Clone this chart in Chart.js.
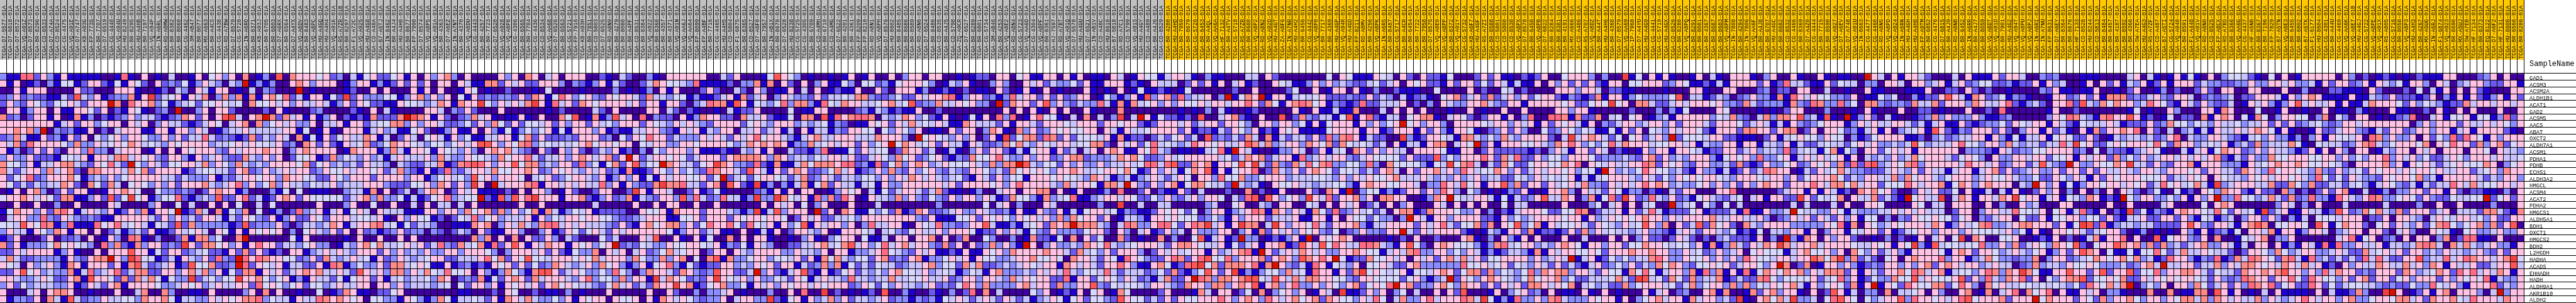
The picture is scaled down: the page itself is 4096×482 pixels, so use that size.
<!DOCTYPE html>
<html><head><meta charset="utf-8">
<style>html,body{margin:0;padding:0;background:#fff;overflow:hidden}canvas{display:block}#w{position:absolute;left:0;top:0;color:#0f0;background:#000;font:14px monospace}</style>
<script src="https://cdn.jsdelivr.net/npm/chart.js@4"></script>
</head><body><canvas id="c" width="4096" height="482"></canvas><div id="w"></div>
<script>
const genes=["GAD1","ACSM3","ACSM2A","ALDH1B1","ACAT1","GAD2","ACSM5","AACS","ABAT","OXCT2","ALDH7A1","ACSM1","PDHA1","PDHB","ECHS1","ALDH3A2","HMGCL","ACSM4","ACAT2","PDHA2","HMGCS1","ALDH5A1","BDH1","OXCT1","HMGCS2","BDH2","L2HGDH","HADHA","ACADS","EHHADH","HADH","ALDH9A1","AKR1B10","ALDH2"];
const graySamples="D7-5577 D7-6818 D7-8572 VQ-A91Z D7-8573 BR-8296 CD-8533 D7-A74A CD-8524 CG-4475 VQ-A91E D7-A747 KB-A93G FP-7735 BR-7707 D7-6519 CG-4440 VQ-A94U HU-8249 BR-8295 HU-A4HB BR-7197 VQ-A94P IN-A6RL RD-A8MW BR-8382 BR-8060 CG-4462 3M-AB47 BR-8077 MX-A663 BR-A4CS CG-4438 RD-A7BW D7-8570 CG-5720 IN-A6RO BR-8371 KB-A93J BR-6705 BR-6803 D7-A6RX BR-6564 D7-A4YX VQ-A8DV BR-8483 VQ-A8PC HU-A4GQ HU-A4H4 VQ-A91K R5-A7ZR-01B BR-8297 F1-A72C VQ-A925 HU-A4G8 CD-A48A B7-A5TJ IN-8462 BR-A4J4 HU-A4H0 BR-8677 FP-7998 D7-8574 VQ-A8P5 VQ-A91A BR-4363 D7-A6EZ IN-A7NT BR-4370 VQ-A8DU CG-4443 BR-4257 BR-7723 D7-6520 VQ-A928 VQ-A8P8 CG-4306 BR-6565 BR-7704 CG-4436 CD-8534 VQ-AA68 D7-6526 BR-6563 CG-5721 FP-7916 KB-A93H BR-7851 CD-5803 D7-6525 RD-A8N9 BR-4279 BR-8080 BR-A4PF CD-8531 BR-8384 VQ-A922 BR-8368 BR-4357 BR-4371 VQ-A91N VQ-AA6J VQ-AA64 FP-8099 FP-A4BF BR-7716 CG-4465 HU-A4H5 CD-5804 F1-6875 BR-8365 CD-8527 D7-A6F0 BR-7957 IN-AB1X BR-8678 D7-6528 HU-8238 CG-5725 CG-4305 BR-6709 CD-A4MH BR-6710 CD-A4MG D7-6522 BR-4201 BR-4361 FP-8209 FP-8210 RD-A8N1 VQ-A8PH D7-8576 HU-8602 BR-8485 BR-8686 BR-8589 RD-A8N6 D7-6524 BR-8486 CD-8535 BR-A4J5 CD-5798 ZQ-A9CR D7-6527 BR-8289 BR-6801 CG-5734 3M-AB46 BR-4253 VQ-A8E2 RD-A8N4 CG-5723 VQ-AA6D CG-4304 VQ-A8PF BR-8361 HJ-7597 RD-A7BT VQ-A91Q D7-5578 HU-A4GU D7-6521 IN-AB1V CD-A48C HU-8610 B7-5818 RD-A7C1 CD-5799 VQ-A91S HU-A4GY CD-A489 BR-A4J6 CD-8529".split(" ");
const yellowSamples="BR-4280 HU-A4HD BR-7959 BR-8679 CG-5726 BR-6453 BR-A4QL VQ-AA6A HF-7132 BR-A4TV CG-5718 R5-A7ZR BR-8680 VQ-A8P2 RD-A8N2 VQ-A92D HU-A4GT ZA-A8F6 IN-A7NR HU-A4H2 BR-6456 CG-4442 VQ-A8P0 BR-7717 BR-4369 HU-A4GP VQ-A94R HU-A4GD FP-8211 RD-A8MV BR-4256 VQ-A8PK IN-A6RS BR-8487 CG-5717 BR-A4CR BR-6454 BR-7722 BR-7958 D7-8575 VQ-A8E0 VQ-A8PP BR-8372 VQ-A91Y CG-5732 KB-A6F7 HU-A4GF R5-A7ZI BR-8588 CD-5801 CD-5800 CD-8530 VQ-A8PX D7-8578 BR-6458 VQ-A8PB D7-6822 BR-8284 BR-8381 BR-4191 MX-A666 CD-A486 R5-A707 VQ-A8DZ BR-A44T HU-A4H6 BR-4368 D7-8579 VQ-AA69 IP-7968 D7-A4YU HU-A4G9 CG-4441 CG-5719 HU-A4GX CD-8526 BR-8280 VQ-A8PQ BR-8291 BR-8081 BR-4367 BR-8687 BR-8683 VQ-A8PM IN-7808 BR-4294 IN-7806 VQ-AA6F BR-A4J8 BR-6707 HU-A4GC BR-8682 CD-8532 CG-4466 BR-8369 D7-A4Z0 CG-4444 BR-7715 BR-8590 VQ-A927 D7-A6EV D7-A748 VQ-A91U IN-8663 CG-4477 CG-4460 RD-A8N5 VQ-A8PD VQ-A924 IN-A6RN HU-A4GH HU-A4H8 FP-A9TM BR-6852 CG-4476 D7-6815 BR-A4J9 RD-A8NB BR-6452 IN-A6RR BR-A4J7 BR-8059 VQ-A8DT VQ-A91D BR-7901 HU-A4G2 VQ-A94T VQ-A8PU VQ-A8PJ IN-A6RI IN-A7NU FP-8631 D7-A6EY BR-8364 BR-8676 HF-7133 CD-8528 HU-8244 CD-5813 BR-8484 BR-6457 BR-4187 BR-8592 BR-4366 SW-A7EA HU-A4G3 R5-A7ZF CD-A487 B7-A5TI CG-5724 VQ-A940 BR-8591 F1-A448 VQ-A91V RD-A8N0 CD-8525 FP-A8CX RD-A7BS BR-8366 VQ-AA6G CG-4437 HF-A5NB BR-8367 BR-7196 FP-7829 B7-A5TN VQ-A8E3 BR-6455 BR-6802 B7-A5TK F1-6177 HU-8604 CG-4301 BR-A44U CG-4469 VQ-AA6K VQ-A8E7-01B HU-A4GJ CG-5722 VQ-A8PE VQ-A91X R5-A805 CG-5716 BR-8058 VQ-A8P3 HU-A4H3 BR-4267 MX-A5UG IN-A6RJ F1-6874 VQ-A923 BR-8690 MX-A5UJ SW-A7EB HF-7134 BR-8373 EQ-8122 D7-A6F2 HF-7131 HU-8608 BR-6566 BR-8286".split(" ");
const levelColors=["#4000A0","#2000D0","#6A58F0","#8A8CFF","#C8C2FF","#D8D8FF","#FFC2E4","#FF8A8A","#FF6A84","#FF5555","#F04040","#D81000"];
const panelA=[
"311882 631611 111001 810601 040016 056360 701309 076665 623041",
"616012 031551 266215 165206 232513 643043 b13130 067636 660136",
"006166 600006 220006 661001 204306 416601 040320 00b010 000120",
"236232 211429 436123 3716a2 456164 703737 171675 824166 152a26",
"263265 325564 2666b7 086673 513452 556545 075564 636446 413626",
"066136 606116 652602 165102 30b003 606620 000206 100023 000021",
"723026 616017 130212 363442 123762 6069a4 067b72 746161 360212",
"666666 661462 663566 064603 644212 465046 707356 463360 446166",
"667673 b03231 160204 666116 616636 401344 644444 661501 610666",
"237411 623162 605356 366533 636244 842321 272436 407151 625644",
"647286 666537 336456 576454 365666 634456 465546 230762 621645",
"613026 262066 383304 666016 060656 663264 666766 036766 660176",
"363362 221554 616647 746563 266316 346322 743636 025561 273543",
"755361 446774 326584 2b5364 255664 736537 434366 665725 634342",
"742466 374672 077666 475726 666124 554426 723634 646623 655646",
"625682 366675 134363 566666 442433 361324 665663 766542 265366",
"652424 344762 075274 056536 362666 743468 363573 644354 463444",
"016067 302626 610166 765005 332320 267661 300031 505011 100344",
"566764 652771 136292 5a5613 558213 439226 824126 762655 555246",
"006006 003006 000064 000036 005040 060605 004050 000006 000360",
"157663 627861 464361 263716 65b127 407153 705013 028346 146156",
"046633 832643 232116 666642 636342 664142 653261 362265 266645",
"554965 871381 118568 456415 429273 333312 923336 202443 476146",
"364416 537616 606024 134261 126456 406516 165656 030564 362606",
"126000 260223 060163 087103 002717 735007 b00000 051600 000106",
"726133 357565 430837 217366 232a62 775636 168662 443563 301436",
"226466 661361 006066 696615 266234 522162 726212 066134 646436",
"474223 333163 2677b6 3a8551 241643 62832b 868766 552362 743464",
"654063 463176 166626 179423 461295 57223b 826546 144226 187135",
"226956 343371 483468 247722 663674 736152 771646 246767 446429",
"664334 652267 196652 727475 1533a2 45355a 667535 613164 425156",
"362534 443361 264267 166665 334656 346446 628565 356255 346446",
"600046 067760 010006 004700 730011 060000 360706 001005 012761",
"613326 074194 233644 553766 751443 364656 778354 416448 767656"];
const panelB=[
"562256 160636 730600 006360 760460 666002 104200 310666 666004",
"613126 262606 606411 772646 226663 032136 142002 476554 381111",
"060600 061606 001650 100200 010500 001000 030101 306160 002620",
"333551 367363 605162 323326 276158 635632 656642 744355 131124",
"522116 554347 61766a 536464 7a6184 627656 666462 661662 034877",
"060410 000664 032620 006000 000102 000042 060000 660420 210010",
"172227 b97616 202374 610116 106007 590171 394608 032206 137662",
"245577 363664 223526 375262 554626 366264 536662 654364 643266",
"146341 156201 361160 631513 535615 166636 121144 663216 461436",
"761402 640564 163511 446615 726222 326662 305265 866243 336464",
"723576 654355 356469 963657 835545 456756 656605 466336 656666",
"661374 166516 543630 676743 206206 362024 361203 053666 361112",
"634146 444637 433655 437566 842446 367646 726b62 466565 246662",
"644304 322447 127898 636695 773436 628351 572693 55b764 4256a7",
"656247 321612 832466 475566 762365 643646 231711 265363 532876",
"626666 366135 645395 636665 045623 566436 136361 516466 55625b",
"666322 255637 6263a6 0b4666 781664 646448 361632 27a778 442670",
"170602 403676 026461 110206 066301 620026 6002a6 166400 261251",
"737335 141256 83455b 219396 8a6661 667213 623714 326639 384238",
"050060 040604 404060 000006 006000 000040 000060 060660 060060",
"406444 111663 663756 727363 571741 354612 222006 556176 662666",
"546106 365512 025483 563444 616354 665665 532234 666115 562666",
"678451 524430 011176 703647 437884 646444 326216 756773 625866",
"231236 233032 024306 211663 003612 652564 264666 666513 662461",
"006006 060000 000073 706070 622630 420005 240006 490061 061500",
"757445 646248 327457 182696 164766 165635 6b2325 433655 665461",
"662636 343633 663666 530366 646262 153370 646046 235745 660266",
"516236 434566 224446 857265 955466 656574 666375 337367 050791",
"336277 456511 612312 165626 252376 434637 563136 156831 521226",
"646377 364754 855606 313753 179962 465335 385303 766427 632396",
"626145 344537 602327 152676 274666 436835 537366 1a4765 2326a6",
"606636 344434 505266 361656 462675 654432 574624 2766a6 712567",
"102256 000000 001100 020650 020110 301000 600000 600620 030334",
"055331 653137 514454 261764 743353 616566 065560 617646 532336"];
const panelC=[
"260001 596530 100101 601600 603660 660010 122066 056116 606160",
"203371 706206 036115 305523 156665 301436 100363 006462 433526",
"042063 011604 060121 160062 066613 012102 011062 016106 010006",
"617246 036433 262445 477322 352264 667813 662313 846626 262366",
"196154 358377 318547 664456 745923 374465 6330b2 766269 363243",
"412260 000501 166000 023143 121160 020000 000006 060610 606006",
"207446 211507 709186 788704 347635 216101 516083 801685 510407",
"662564 366634 345132 011656 264745 464117 644426 166426 665466",
"604462 461406 144132 665505 365360 110626 603761 073623 656556",
"264685 664314 674466 644476 6630b5 654363 60261a 257728 726255",
"534767 676133 745646 626356 b57645 626441 642237 574365 466455",
"104361 600422 138011 526455 027662 401410 362662 141566 162404",
"677776 376344 354664 622465 375623 562132 755684 336366 236772",
"633282 171147 577768 823182 573676 346555 643737 7b9435 526363",
"642964 162676 223574 612363 732635 632432 665342 756565 366764",
"245256 654247 236424 435536 364764 643452 164263 551666 565543",
"9621a1 303147 157264 414516 336666 664626 666563 686666 437466",
"000023 161606 600136 560415 246642 472110 130046 606677 060160",
"4413a3 3a7546 183728 601644 373632 532636 636412 755317 345811",
"000006 064605 036000 600040 000000 030000 005046 030006 400000",
"4313a1 493666 0b2607 611535 271276 223463 364323 161163 261415",
"265665 665026 462244 536666 666632 611155 626565 365646 373756",
"852854 616359 164663 603844 661065 483323 669411 314562 767b77",
"106014 160266 436016 665404 532564 463666 512263 641532 633325",
"706066 100103 610356 605114 066066 706027 005300 301722 150706",
"325164 300224 467457 946358 467466 327260 623736 31b603 633437",
"064366 663364 436066 133468 543264 611216 116563 766667 664274",
"733566 355462 617574 355267 232671 335646 165533 466755 650766",
"634365 626614 237371 524254 423446 735527 472234 346546 617646",
"6224b3 621469 216125 624353 675546 345413 541673 334364 648435",
"546363 354265 146443 844344 744556 446236 636643 746566 228166",
"335164 636566 465666 236525 364434 623258 637333 367466 273366",
"601000 300608 00a020 101209 003100 210302 807040 000536 012160",
"046633 a21561 634736 244346 233132 315464 246426 424134 651562"];
const panelD=[
"110640 165514 664103 110004 406200 000005 065111 654062 062215",
"116661 210644 402626 160461 200654 113636 343224 524606 562216",
"101060 151121 015000 000200 600002 500601 660610 300211 100500",
"015313 619367 283446 03b157 6b1661 454562 223226 243041 231056",
"384171 745636 365564 664668 627516 787561 321282 244460 203064",
"100070 000000 010103 041001 200000 610611 411700 040606 060001",
"0403a0 4b6152 212090 046721 060090 273244 159168 214405 677104",
"626656 621266 646246 626653 066366 351615 666163 6356b5 636630",
"606416 445666 626122 142653 612165 611115 666616 612666 162631",
"546171 220242 562409 232427 407142 442628 378614 2200a3 126654",
"772064 625845 434866 564469 747346 637657 275454 240614 416770",
"606761 165843 011014 581b64 100133 640261 450762 636440 666651",
"333476 752236 456666 645247 672466 183464 663246 555526 222935",
"363446 458848 922767 166596 a42732 748578 335538 307555 53154a",
"456657 512636 415769 161566 802743 626765 255424 267406 266746",
"764134 134642 465066 385573 356663 444554 363646 556744 464343",
"51774b 632636 715775 442b43 410655 644344 553167 665566 403386",
"013080 026021 162040 002007 020160 006207 61b035 513126 626386",
"346646 522536 324636 650428 909635 63a648 266736 077660 01376b",
"0300a0 040044 000003 400560 043066 005406 064602 406036 000640",
"664513 211265 652503 661346 871763 641752 823645 240677 127666",
"626014 431665 655523 531636 662444 611661 606552 53303b 641663",
"743048 733688 52687a 4616a7 704a63 665842 666731 446666 264684",
"662063 046126 340633 366036 172646 365632 502363 3266b4 264666",
"250072 010070 300591 4612b3 301213 61b065 676000 001020 600200",
"658434 566642 677654 461524 616671 296495 864488 743169 520676",
"536266 630264 645661 634678 1b6246 476463 366765 514647 833663",
"426518 653226 872689 558366 672676 397686 b51227 556460 646267",
"426686 311675 1289a5 727776 817b63 241861 543605 564226 733333",
"548424 442352 721359 626a13 135537 451866 1627a5 654561 554676",
"256536 423147 226b87 377679 954964 747766 553266 555525 63134b",
"932545 543664 327663 773676 916736 833636 536725 658b67 233675",
"560175 000026 000174 066025 070356 360164 0a1126 360350 400606",
"553296 552426 265566 686367 638646 756727 655364 850473 368466"];
const panelE=[
"000262 611021 260056 663030 0a1506 161001 604106 661036 006100",
"266252 641411 606362 626216 605566 623651 121416 666261 284421",
"006020 054020 000666 366402 211000 010006 610066 000230 220660",
"724627 246362 566213 212716 613533 335904 412430 236331 718646",
"336674 326616 666656 22565a 560774 224646 665633 274233 317328",
"006010 060060 000663 661000 002000 303150 000650 000101 026600",
"652026 616038 008871 722704 505601 341666 663547 320473 776934",
"666654 663646 162656 416032 466346 636266 642666 524641 416323",
"665102 362630 052365 354115 162605 436466 521666 277662 677026",
"177435 374366 66204a 467642 505624 63b255 546622 111026 145655",
"465b26 166655 643768 635358 476664 556646 143366 166144 361422",
"166026 222221 203641 662640 210163 661665 412266 246344 382454",
"366686 274822 635536 665233 343267 263436 663156 563833 561464",
"578404 275225 665576 806546 446687 265632 663342 721263 356236",
"386455 763624 646656 3551b6 343586 553421 633141 262487 660142",
"634634 422543 645456 141456 664364 253656 566543 666546 636256",
"485616 693726 626456 473326 464686 763433 563636 263676 626668",
"305301 013261 016673 064426 513302 104266 000668 000000 246616",
"544664 151423 694476 037158 2a6238 436231 564324 504616 622a62",
"606060 050440 000060 003504 606045 00b345 053050 400000 004040",
"533603 021466 652255 870244 616248 412225 612224 181163 34b544",
"666622 163534 666656 616346 565676 636466 667446 644630 236462",
"255727 065935 716455 642654 364596 370624 927562 074366 663333",
"621014 316627 122126 273645 443463 321464 266435 121504 436616",
"067103 063160 600060 040006 060362 202642 020342 221603 0b3176",
"555313 784566 343676 516636 625576 654553 617137 426476 a74667",
"536413 124431 716466 556526 667667 663364 523634 605655 514675",
"474625 566663 63464b 146125 353447 863365 563636 386554 664669",
"385564 562543 642624 214623 536243 757632 556562 466536 b70270",
"257727 354358 376773 664265 517585 146637 183716 181576 576736",
"265367 654357 566735 224445 742a94 527527 344712 422785 355556",
"376626 264627 764657 045342 273566 645247 356637 373546 567416",
"290001 603562 306011 061060 100061 460230 067170 017267 366106",
"6874a5 131833 637843 336566 160356 746617 466342 a10675 74a334"];
const panelF=[
"610110 0b6406 166420 004061 116266 400323 000111 000046 041016",
"162544 033066 406634 614623 552231 226163 400160 626143 612616",
"040010 061100 011160 022062 020010 000326 110116 001026 001302",
"553326 011535 003122 696417 623513 210016 623626 177723 246326",
"733835 077323 327447 266637 644682 134206 682943 757663 486521",
"030001 061000 600220 100060 020800 000016 002000 000015 010063",
"1910b1 362041 001237 363336 311230 000036 587431 786696 120150",
"566613 646446 642414 611621 233526 546616 421544 464122 262375",
"066523 146160 345619 621326 662620 366162 410617 266768 062040",
"365503 125666 611203 423446 616315 144615 652262 014344 342368",
"454425 646334 349534 446855 366374 344244 84a562 256566 658527",
"157153 066256 461666 666033 321642 335566 662305 032213 465100",
"645616 043436 347566 642565 306336 646625 561646 627353 634664",
"563728 289346 578366 666486 646236 624943 2b6336 5576a4 426326",
"645743 322246 436264 414661 467262 346336 266262 644643 664366",
"667524 366447 375664 356663 465564 335226 536416 265666 555624",
"647757 466255 586466 715763 676660 43b636 151366 566465 624856",
"164120 767562 002646 225061 140416 102636 030603 060642 025105",
"545706 447242 1b5644 a04761 66476a 566146 154376 121b53 663353",
"004060 066500 006504 406660 060300 634000 660000 060060 000460",
"336514 333446 464644 402660 366448 554605 614821 6021a2 513216",
"642636 155030 326556 552560 324660 522615 566355 262144 622662",
"365817 065346 566647 613645 783346 776662 615a92 813443 442222",
"036615 466261 245663 666365 555463 516106 656424 566201 301010",
"063662 001030 201604 605a07 600556 001216 020147 166806 009156",
"466665 446561 65a319 455455 833637 246537 659205 669767 372734",
"563607 536246 316666 516762 665346 435613 626976 051151 558524",
"757a37 242056 067666 836613 475332 337036 623457 656757 341286",
"166363 123266 363672 676466 346440 237344 365565 333423 674b44",
"477726 164266 758746 714553 687376 a75116 696626 926692 558366",
"245836 125337 559465 556926 384376 826053 677925 565722 646565",
"356527 16b165 286557 725863 075644 554545 435286 5747b0 353606",
"029614 033070 445606 300670 170468 075680 611646 033100 070070",
"058965 053466 938665 646895 666726 66b576 662652 736675 366365"];
const panelG=[
"151060 355421 050601 666660 630201 210102 111660 002360 600",
"662433 223363 366463 341626 623616 435166 306403 466322 661",
"002620 660066 000600 300022 111062 000205 041606 062100 066",
"640232 340226 664163 676111 161143 262221 260316 162136 162",
"642632 240164 631369 464461 611476 665263 543122 746646 646",
"000661 760005 001600 100601 103100 061100 206106 060006 006",
"220716 760517 503665 503705 306601 012380 046155 615513 826",
"535436 445344 626262 345323 664666 666603 636662 644646 536",
"341416 446467 651610 016224 663214 266236 636614 616666 210",
"043366 432145 363313 036165 546087 363360 625382 865163 666",
"663454 613427 344475 105444 236784 356665 706586 627367 256",
"414615 766236 364431 261606 306601 436606 460666 066506 443",
"646467 214263 375566 655663 635366 836463 522465 366646 445",
"671666 333164 567667 655654 206666 736165 642456 555760 356",
"656266 442764 385665 437326 345265 664656 656446 624563 766",
"465606 544365 646656 438525 264332 656657 341666 664243 663",
"45741a 346664 472275 372244 245314 653241 424486 474556 646",
"120653 766216 220730 202626 710401 303366 266162 022110 306",
"61636b 338553 474272 383318 643687 335652 632254 455b25 626",
"000506 760000 003640 306000 400000 400003 006006 000030 006",
"766548 526451 a24611 644129 623757 437266 624604 442774 217",
"631541 340366 263031 405554 666022 606643 046546 645362 266",
"696326 641679 705566 509615 766205 626436 257853 567372 690",
"631612 315066 471661 366403 466066 204630 065410 563346 336",
"632607 001546 703360 000004 681560 230606 603702 881106 000",
"246733 641406 606131 641818 336446 144347 874074 743463 316",
"744654 420266 537534 663346 422745 646266 343644 346326 266",
"631328 127487 652784 183424 242848 422669 344846 876646 7a5",
"662447 364776 564764 746120 636447 644746 376164 462246 694",
"776425 442766 767966 363847 662326 662763 457628 684647 616",
"665426 323876 626685 286553 626726 625636 662636 565814 336",
"637524 626387 682562 286252 455443 232253 385463 166682 436",
"117709 616010 406111 106041 127300 ab6012 616706 66304b 366",
"774737 646447 364346 864663 673356 657746 276675 486664 766"];

const panels=[panelA,panelB,panelC,panelD,panelE,panelF,panelG];
const S=0.8918;                // reference px -> window px
const COLS=375, REF_CELL=12;
const heat=genes.map((g,r)=>panels.map(p=>p[r]).join("").replace(/ /g,""));
const samples=[...graySamples,...yellowSamples].map(s=>"TCGA-"+s+(/-01[A-Z]$/.test(s)?"":"-01A"));
const bad=heat.map((h,r)=>h.length!==COLS?r+":"+h.length:null).filter(Boolean);
panels.forEach((p,i)=>p.forEach((s,r)=>{const n=s.replace(/ /g,"").length;if(n!==(i<6?54:51))bad.push("p"+i+"r"+r+"="+n)}));
if(samples.length!==COLS)bad.push("samples "+samples.length+" g"+graySamples.length);
if(bad.length)document.getElementById("w").textContent=bad.join(" ");

const headerUnits=106/REF_CELL, gridTop=131/REF_CELL, totalUnits=540/REF_CELL;
const datasets=[
 {label:"group",data:samples.map(()=>headerUnits),backgroundColor:samples.map((_,i)=>i<graySamples.length?"#C0C0C0":"#FFC800")},
 {label:"gap",data:samples.map(()=>gridTop-headerUnits),backgroundColor:"#FFFFFF"},
 ...genes.map((g,r)=>({label:g,data:samples.map(()=>1),backgroundColor:[...heat[r]].map(c=>levelColors[parseInt(c,16)])}))
];
const yMarks=[{value:114/REF_CELL,text:"SampleName",line:false}];
genes.forEach((g,r)=>{
  yMarks.push({value:gridTop+r,text:"",line:true});
  yMarks.push({value:gridTop+r+0.72,text:g,line:false});
});
yMarks.push({value:gridTop+genes.length,text:"",line:true});

const MONO="'Liberation Mono','DejaVu Sans Mono',monospace";
const RIGHT=4096-4500*S;
new Chart(document.getElementById("c"),{
 type:"bar",
 data:{labels:samples,datasets},
 options:{
  responsive:false,animation:false,events:[],
  layout:{padding:0},
  datasets:{bar:{barPercentage:1,categoryPercentage:1,borderWidth:0,inflateAmount:0.3}},
  plugins:{legend:{display:false},tooltip:{enabled:false},title:{display:false}},
  scales:{
   x:{type:"category",stacked:true,position:{y:10/REF_CELL},
      grid:{color:"#000",lineWidth:1,z:1,drawTicks:false},border:{display:false},
      ticks:{autoSkip:false,minRotation:90,maxRotation:90,padding:0,z:2,color:"#000",labelOffset:1,
             font:{family:MONO,size:8.83}},
      afterFit(s){s.paddingLeft=0;s.paddingRight=0;s.paddingTop=0;s.paddingBottom=0}},
   y:{type:"linear",stacked:true,reverse:true,min:0,max:totalUnits,position:"right",
      afterBuildTicks(s){s.ticks=yMarks.map(m=>({value:m.value}))},
      afterFit(s){s.width=RIGHT;s.paddingTop=0;s.paddingBottom=0;s.paddingLeft=0;s.paddingRight=0},
      grid:{color:c=>(yMarks[c.index]&&yMarks[c.index].line)?"#000":"rgba(0,0,0,0)",lineWidth:1,z:1,tickLength:RIGHT},
      border:{display:false},
      ticks:{autoSkip:false,z:2,color:"#000",padding:9-RIGHT,
             callback:(v,i)=>yMarks[i]?yMarks[i].text:"",
             font:c=>({family:MONO,size:(yMarks[c.index]&&yMarks[c.index].text==="SampleName")?11.9:8.83})}}
  }
 }
});
</script>
</body></html>
